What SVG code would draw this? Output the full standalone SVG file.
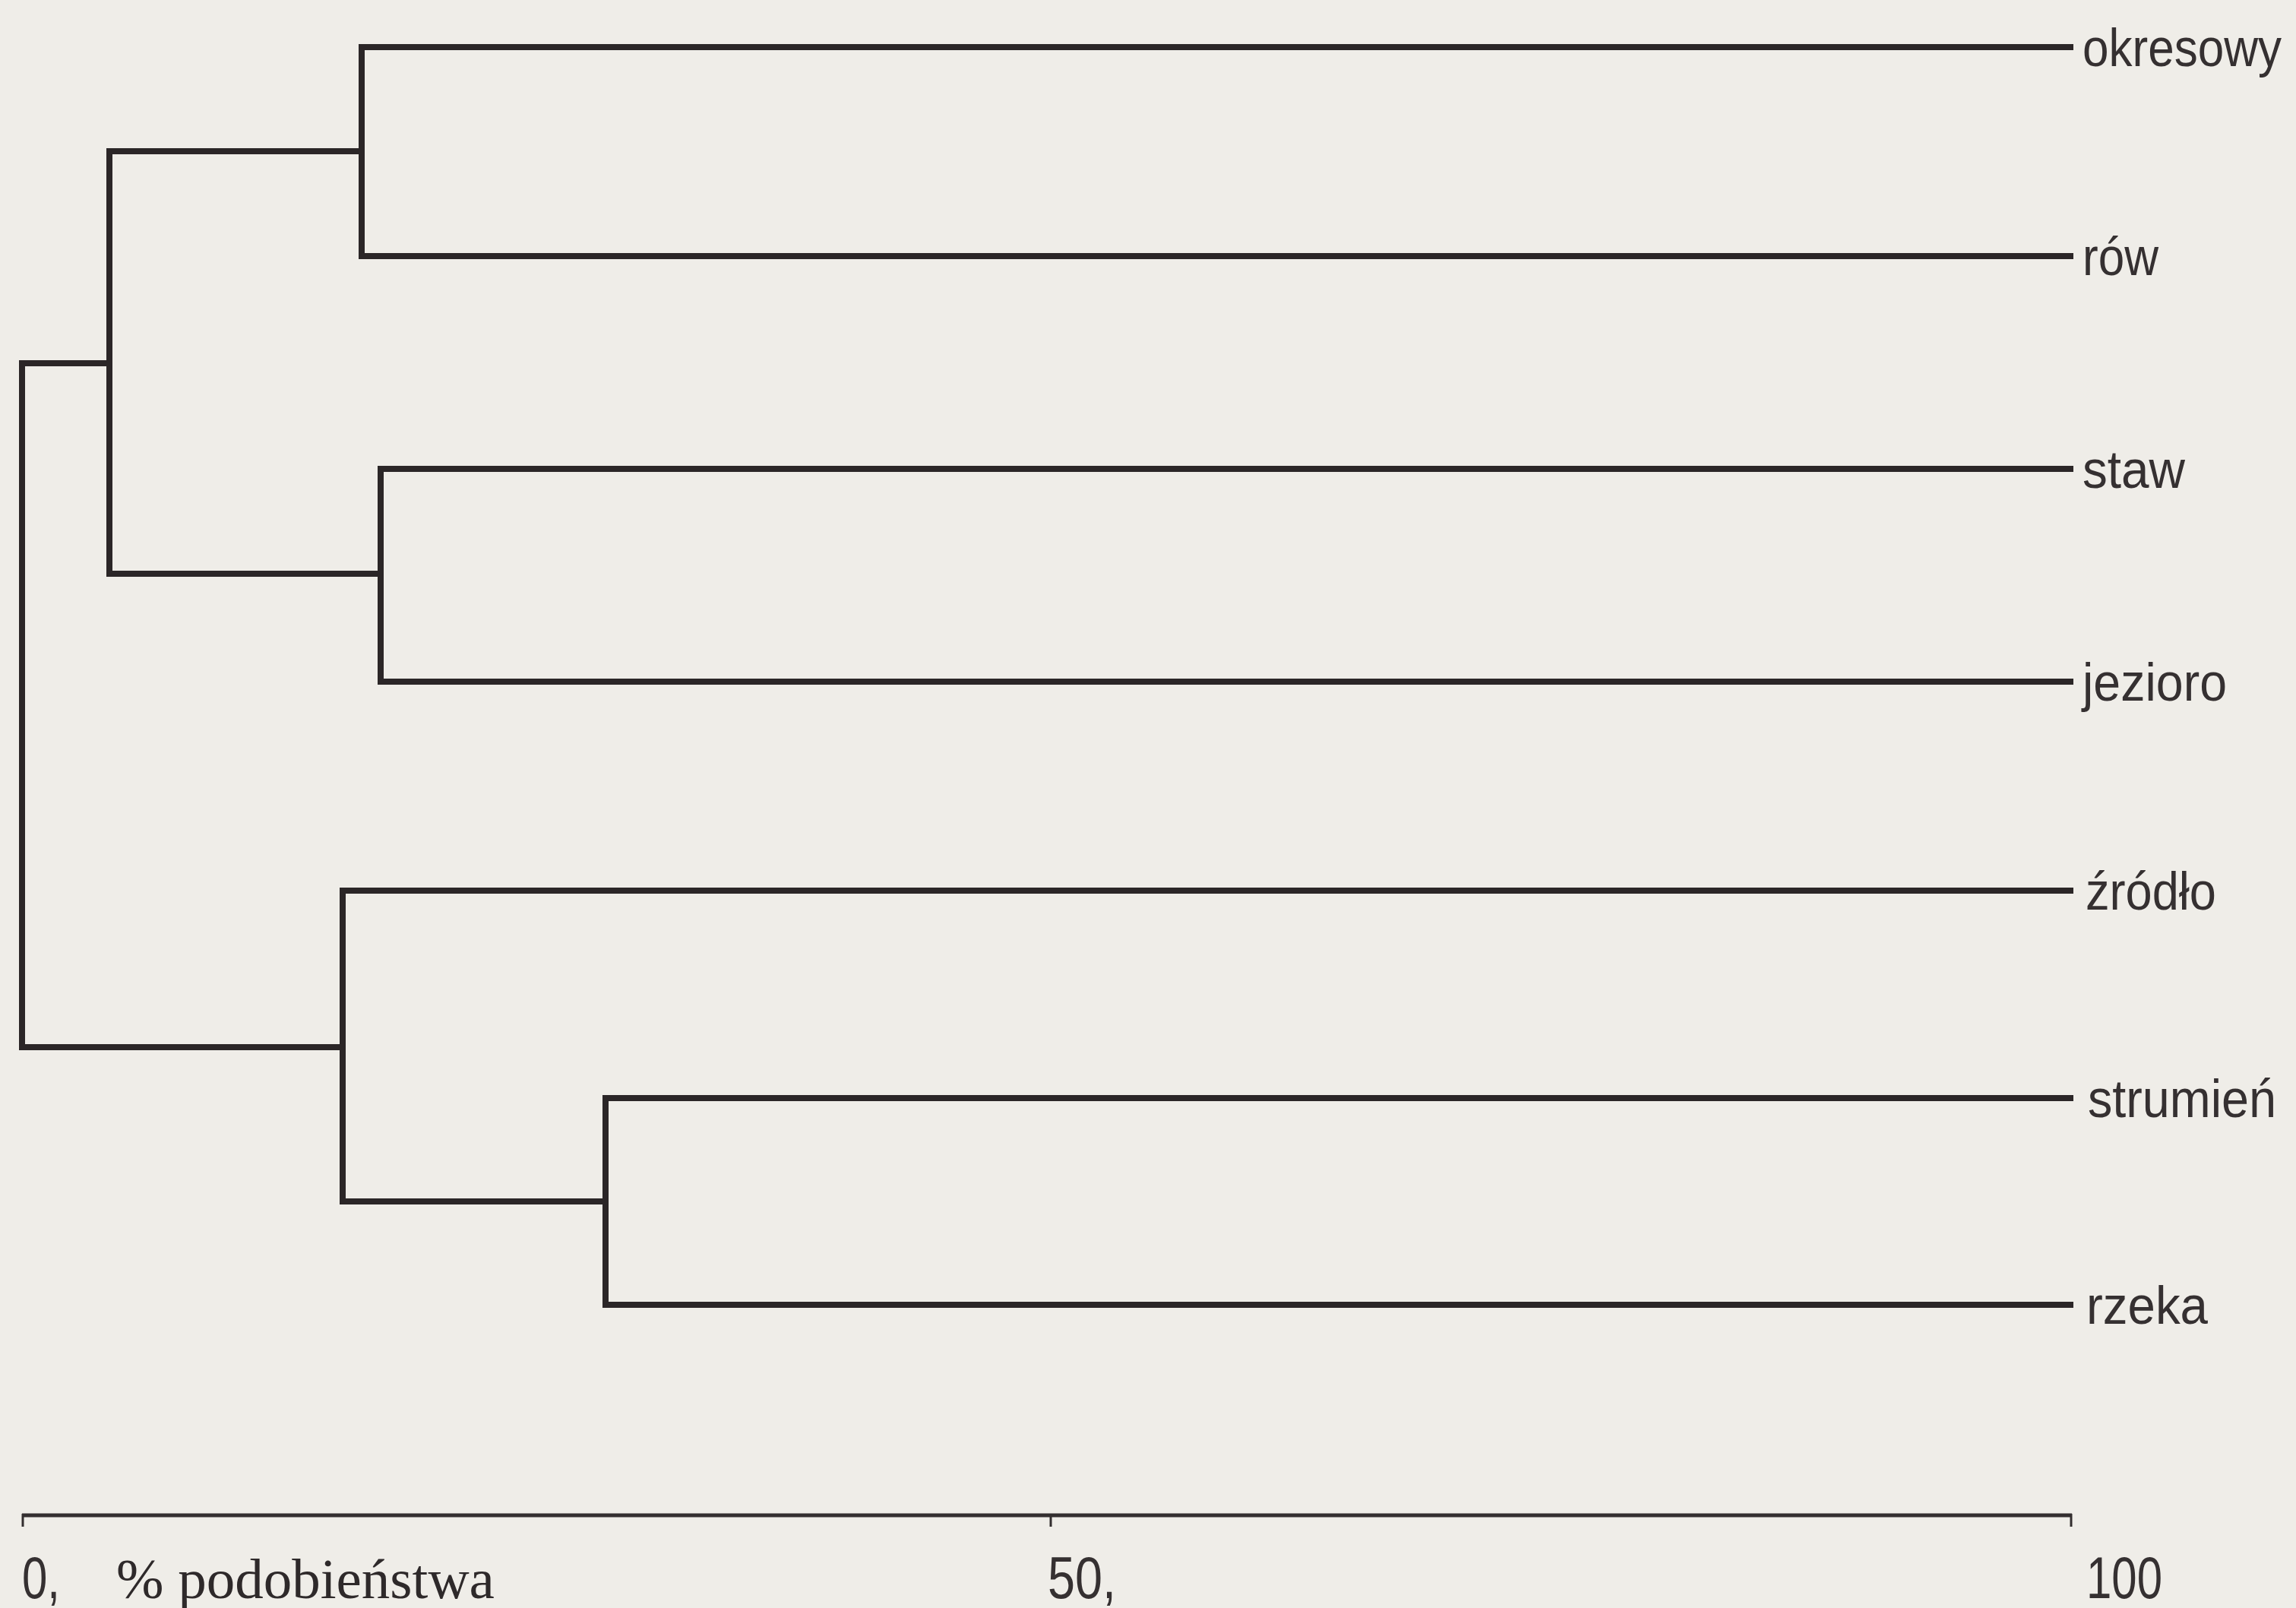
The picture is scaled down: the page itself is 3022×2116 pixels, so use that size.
<svg xmlns="http://www.w3.org/2000/svg" width="3022" height="2116" viewBox="0 0 3022 2116">
<style>
.br{fill:none;stroke:#2b2627;stroke-width:8;stroke-linejoin:miter;stroke-linecap:square}
.ax{fill:none;stroke:#332e2f;stroke-width:5}
.tk{fill:none;stroke:#332e2f;stroke-width:3}
.lb{font-family:"Liberation Sans",Arial,sans-serif;font-size:71px;fill:#353031}
.num{font-family:"Liberation Sans",Arial,sans-serif;font-size:77px;fill:#353031}
.ser{font-family:"Liberation Serif","Times New Roman",serif;font-size:75px;fill:#2e292a}
</style>
<rect x="0" y="0" width="3022" height="2116" fill="#efede8"/>
<g id="connectors">
<path class="br" d="M2725,62 H476 V337 H2725"/>
<path class="br" d="M2725,617 H501 V897 H2725"/>
<path class="br" d="M476,199 H144 V755 H501"/>
<path class="br" d="M2725,1445 H797 V1717 H2725"/>
<path class="br" d="M2725,1172 H451 V1581 H797"/>
<path class="br" d="M144,478 H29 V1378 H451"/>
</g>
<g id="node-okresowy"><text class="lb" x="2741" y="87" font-size="66" textLength="262" lengthAdjust="spacingAndGlyphs">okresowy</text></g>
<g id="node-row"><text class="lb" x="2741" y="362" textLength="100" lengthAdjust="spacingAndGlyphs">rów</text></g>
<g id="node-staw"><text class="lb" x="2741" y="642" textLength="135" lengthAdjust="spacingAndGlyphs">staw</text></g>
<g id="node-jezioro"><text class="lb" x="2741" y="922" textLength="190" lengthAdjust="spacingAndGlyphs">jezioro</text></g>
<g id="node-zrodlo"><text class="lb" x="2745" y="1197" textLength="172" lengthAdjust="spacingAndGlyphs">źródło</text></g>
<g id="node-strumien"><text class="lb" x="2748" y="1470" textLength="248" lengthAdjust="spacingAndGlyphs">strumień</text></g>
<g id="node-rzeka"><text class="lb" x="2746" y="1742" textLength="160" lengthAdjust="spacingAndGlyphs">rzeka</text></g>
<g id="axis">
<line class="ax" x1="29" y1="1994" x2="2727" y2="1994"/>
<line class="tk" x1="30" y1="1992" x2="30" y2="2009"/>
<line class="tk" x1="1383" y1="1992" x2="1383" y2="2009"/>
<line class="tk" x1="2726" y1="1992" x2="2726" y2="2009"/>
<text class="num" x="29" y="2103" textLength="50" lengthAdjust="spacingAndGlyphs">0,</text>
<text class="ser" x="153" y="2103">% podobieństwa</text>
<text class="num" x="1379" y="2103" textLength="90" lengthAdjust="spacingAndGlyphs">50,</text>
<text class="num" x="2746" y="2103" textLength="100" lengthAdjust="spacingAndGlyphs">100</text>
</g>
</svg>
